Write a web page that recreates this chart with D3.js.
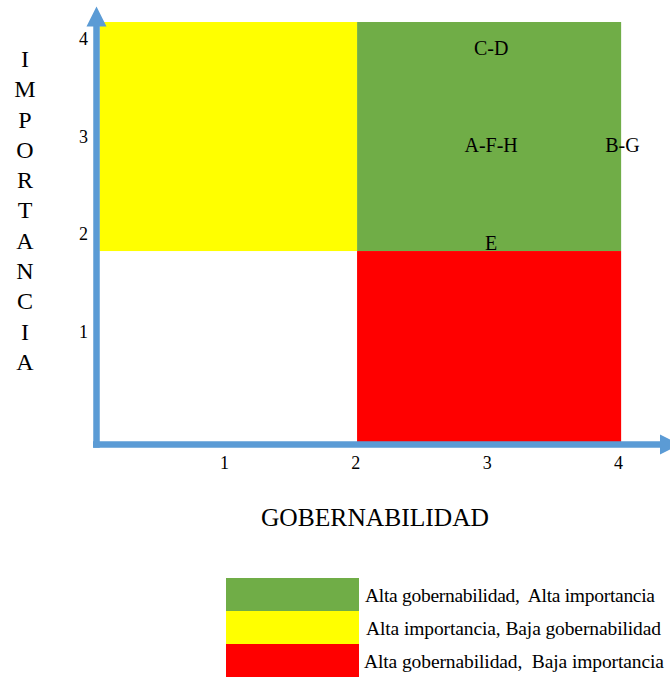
<!DOCTYPE html>
<html><head><meta charset="utf-8">
<script src="https://cdn.jsdelivr.net/npm/d3@7"></script>
<style>html,body{margin:0;padding:0;background:#fff}svg{display:block}</style>
</head><body>
<svg id="c" width="670" height="677"></svg>
<script>
// ---- data ----
const xTicks = [1, 2, 3, 4];
const yTicks = [1, 2, 3, 4];
const xTitle = "GOBERNABILIDAD";
const yTitle = "IMPORTANCIA";
// quadrant bounds in data units (gobernabilidad, importancia)
const quadNames = ["Alta gobernabilidad,  Alta importancia", "Alta importancia, Baja gobernabilidad", "Alta gobernabilidad,  Baja importancia"];
const quadX0 = [2.01, 0.05, 2.01];
const quadX1 = [4.02, 2.01, 4.02];
const quadY0 = [1.856, 1.856, -0.113];
const quadY1 = [4.205, 4.205, 1.856];
const pointLabels = ["C-D", "A-F-H", "B-G", "E"];
const pointGob = [3, 3, 4, 3];
const pointImp = [4, 3, 3, 2];

// ---- styles ----
const quadColors = ["#70ad47", "#ffff00", "#ff0000"];
const axisColor = "#5b9bd5";
const font = "'Liberation Serif','Times New Roman',serif";
const legendTextX = [139, 140, 138];
const legendTextW = [290, 295, 300];

const svg = d3.select("#c");
const x = d3.scaleLinear().domain([0, 4]).range([93, 618.5]);
const y = d3.scaleLinear().domain([0, 4]).range([432, 42]);

// quadrants
svg.append("g").selectAll("rect").data(quadNames).join("rect")
  .attr("x", (d, i) => x(quadX0[i]))
  .attr("width", (d, i) => x(quadX1[i]) - x(quadX0[i]))
  .attr("y", (d, i) => y(quadY1[i]))
  .attr("height", (d, i) => y(quadY0[i]) - y(quadY1[i]))
  .attr("fill", (d, i) => quadColors[i]);

// axes
const ax = x(0) + 3.5, ay = 444.5;
svg.append("line").attr("x1", ax).attr("x2", ax).attr("y1", ay + 3.2).attr("y2", 26)
  .attr("stroke", axisColor).attr("stroke-width", 6.5);
svg.append("path").attr("d", `M${ax - 10},26.5 L${ax + 10},26.5 L${ax},6.5 Z`).attr("fill", axisColor);
svg.append("line").attr("x1", x(0)).attr("x2", 661).attr("y1", ay).attr("y2", ay)
  .attr("stroke", axisColor).attr("stroke-width", 6.5);
svg.append("path").attr("d", `M660,${ay - 10} L660,${ay + 10} L680,${ay} Z`).attr("fill", axisColor);

// tick labels
svg.append("g").selectAll("text").data(xTicks).join("text")
  .attr("x", d => x(d)).attr("y", 462.5).attr("dy", "0.35em")
  .attr("text-anchor", "middle").attr("font-family", font).attr("font-size", 18)
  .text(d => d);
svg.append("g").selectAll("text").data(yTicks).join("text")
  .attr("x", 88).attr("y", d => y(d) - 3).attr("dy", "0.35em")
  .attr("text-anchor", "end").attr("font-family", font).attr("font-size", 18)
  .text(d => d);

// point labels
svg.append("g").selectAll("text").data(pointLabels).join("text")
  .attr("x", (d, i) => x(pointGob[i]) + 4).attr("y", (d, i) => y(pointImp[i]) + 5.5).attr("dy", "0.35em")
  .attr("text-anchor", "middle").attr("font-family", font).attr("font-size", 20)
  .text(d => d);

// axis titles
svg.append("text").attr("x", 375).attr("y", 517).attr("dy", "0.35em")
  .attr("text-anchor", "middle").attr("font-family", font).attr("font-size", 25.5)
  .text(xTitle);
svg.append("g").selectAll("text").data(yTitle.split("")).join("text")
  .attr("x", 25).attr("y", (d, i) => 58.5 + i * 30.3).attr("dy", "0.35em")
  .attr("text-anchor", "middle").attr("font-family", font).attr("font-size", 24)
  .text(d => d);

// legend
const lg = svg.append("g").attr("transform", "translate(226,578)");
lg.selectAll("rect").data(quadNames).join("rect")
  .attr("x", 0).attr("y", (d, i) => i * 33).attr("width", 133).attr("height", 33)
  .attr("fill", (d, i) => quadColors[i]);
lg.selectAll("text").data(quadNames).join("text")
  .attr("x", (d, i) => legendTextX[i]).attr("y", (d, i) => 17 + i * 33).attr("dy", "0.35em")
  .attr("font-family", font).attr("font-size", 19.5)
  .attr("textLength", (d, i) => legendTextW[i]).attr("lengthAdjust", "spacing")
  .style("white-space", "pre")
  .text(d => d);
</script>
</body></html>
